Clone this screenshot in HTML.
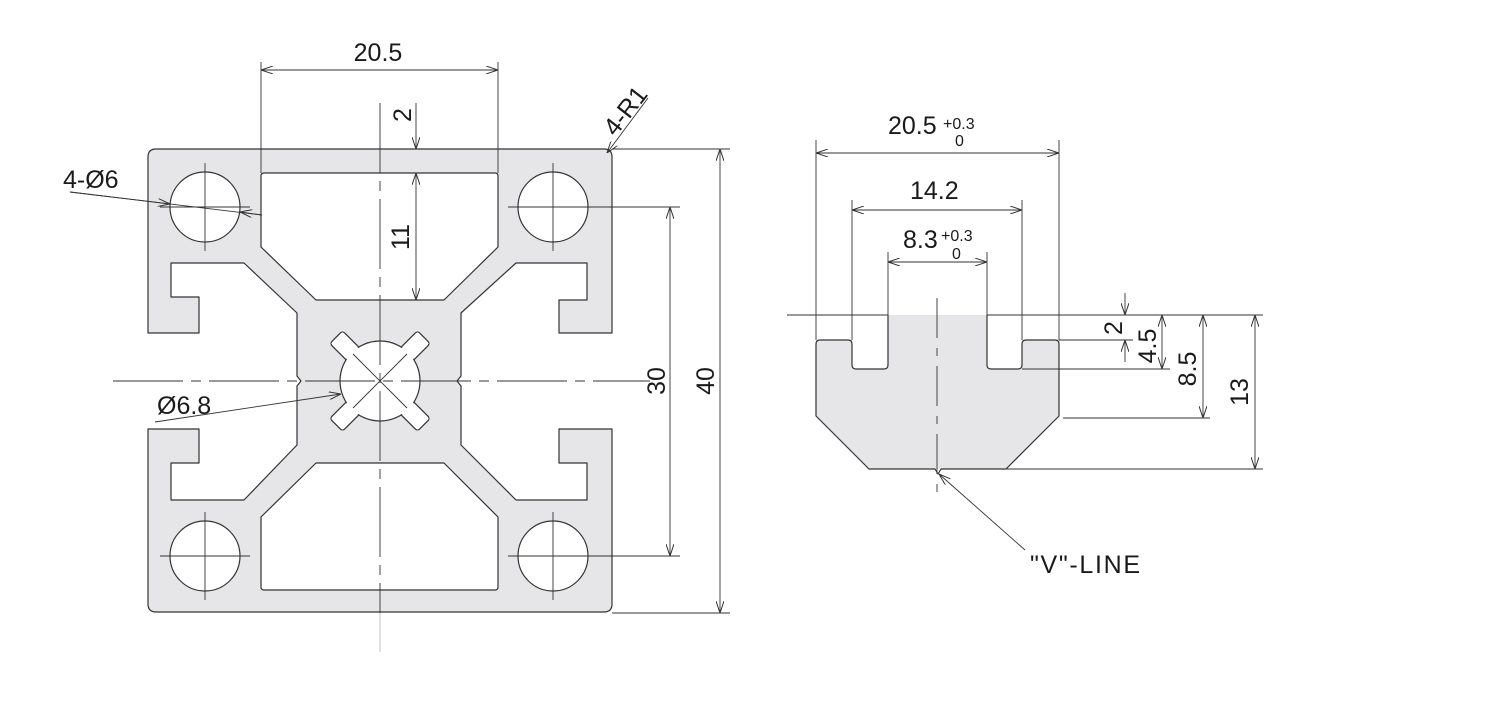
<!DOCTYPE html>
<html><head><meta charset="utf-8"><style>
html,body{margin:0;padding:0;background:#fff;}
svg{display:block;}
text{font-family:"Liberation Sans",sans-serif;fill:#1a1a1a;}
</style></head><body>
<svg width="1505" height="719" viewBox="0 0 1505 719" xmlns="http://www.w3.org/2000/svg">
<defs>
<marker id="a" viewBox="0 0 12 8" refX="12" refY="4" markerWidth="12" markerHeight="8" markerUnits="userSpaceOnUse" orient="auto-start-reverse">
<path d="M0,0 L12,4 L0,8" fill="none" stroke="#333" stroke-width="1"/>
</marker>
</defs>
<g stroke="#333" stroke-width="1.2" fill="none">
<path fill="#e6e6e8" stroke-linejoin="round" d="M156,149 L604,149 Q612,149 612,157 L612,333 L559,333 L559,300 L587,300 L587,263 L516,263 L461,313 L461,376 L457,381 L461,386 L461,445 L516,500 L587,500 L587,463 L559,463 L559,429 L612,429 L612,604 Q612,612 604,612 L156,612 Q148,612 148,604 L148,429 L199,429 L199,463 L171,463 L171,500 L244,500 L297,445 L297,386 L301,381 L297,376 L297,313 L244,263 L171,263 L171,297 L199,297 L199,333 L148,333 L148,157 Q148,149 156,149 Z"/>
<path fill="#fff" stroke-linejoin="round" d="M264,173 L495,173 Q498,173 498,176 L498,247 L444,300 L316,300 L261,247 L261,176 Q261,173 264,173 Z"/>
<path fill="#fff" stroke-linejoin="round" d="M316,463 L444,463 L498,517 L498,587 Q498,590 495,590 L264,590 Q261,590 261,587 L261,517 Z"/>
<circle cx="205" cy="207" r="35" fill="#fff"/>
<circle cx="553" cy="207" r="35" fill="#fff"/>
<circle cx="205" cy="556" r="35" fill="#fff"/>
<circle cx="553" cy="556" r="35" fill="#fff"/>
<g transform="translate(380,381) rotate(45)">
<rect x="-62" y="-9" width="124" height="18" rx="3" fill="#fff"/>
<rect x="-9" y="-62" width="18" height="124" rx="3" fill="#fff"/>
<circle r="40" fill="#fff"/>
<rect x="-61" y="-8" width="122" height="16" fill="#fff" stroke="none"/>
<rect x="-8" y="-61" width="16" height="122" fill="#fff" stroke="none"/>
</g>
<g stroke-width="0.9">
<line x1="353" y1="354" x2="407" y2="408"/><line x1="407" y1="354" x2="353" y2="408"/>
<line x1="380" y1="103" x2="380" y2="613" stroke-dasharray="70,8,10,8"/>
<line x1="380" y1="613" x2="380" y2="652" stroke="#bbb"/>
<line x1="113" y1="381" x2="650" y2="381" stroke-dasharray="70,8,10,8"/>
<line x1="160" y1="207" x2="250" y2="207"/><line x1="205" y1="163" x2="205" y2="251"/>
<line x1="508" y1="207" x2="680" y2="207"/><line x1="553" y1="163" x2="553" y2="251"/>
<line x1="160" y1="556" x2="250" y2="556"/><line x1="205" y1="512" x2="205" y2="600"/>
<line x1="508" y1="556" x2="680" y2="556"/><line x1="553" y1="512" x2="553" y2="600"/>
<line x1="261" y1="62" x2="261" y2="173"/><line x1="498" y1="62" x2="498" y2="173"/>
<line x1="261" y1="70" x2="498" y2="70" marker-start="url(#a)" marker-end="url(#a)"/>
<line x1="416" y1="103" x2="416" y2="149" marker-end="url(#a)"/>
<line x1="416" y1="173" x2="416" y2="300" marker-start="url(#a)" marker-end="url(#a)"/>
<line x1="648" y1="98" x2="607" y2="153" marker-end="url(#a)"/>
<line x1="70" y1="192" x2="262" y2="215"/>
<line x1="70" y1="192" x2="170" y2="204" marker-end="url(#a)"/>
<line x1="262" y1="215" x2="240" y2="212" marker-end="url(#a)"/>
<line x1="155" y1="422" x2="341" y2="394" marker-end="url(#a)"/>
<line x1="670" y1="207" x2="670" y2="556" marker-start="url(#a)" marker-end="url(#a)"/>
<line x1="612" y1="149" x2="730" y2="149"/><line x1="612" y1="613" x2="730" y2="613"/>
<line x1="720" y1="149" x2="720" y2="613" marker-start="url(#a)" marker-end="url(#a)"/>
</g>
<path fill="#e6e6e8" stroke="none" d="M888,315 L987,315 L987,369 L1022,369 L1022,340 L1059,340 L1059,416 L1006,469 L869,469 L816,416 L816,340 L852,340 L852,369 L888,369 Z"/>
<path stroke-linejoin="round" d="M888,315 L888,365 Q888,369 884,369 L856,369 Q852,369 852,365 L852,344 Q852,340 848,340 L820,340 Q816,340 816,344 L816,416 L869,469 L935,469 L938,474 L941,469 L1006,469 L1059,416 L1059,344 Q1059,340 1055,340 L1026,340 Q1022,340 1022,344 L1022,365 Q1022,369 1018,369 L991,369 Q987,369 987,365 L987,315"/>
<g stroke-width="0.9">
<line x1="787" y1="315" x2="888" y2="315"/><line x1="987" y1="315" x2="1263" y2="315"/>
<line x1="816" y1="140" x2="816" y2="340"/><line x1="1059" y1="140" x2="1059" y2="340"/>
<line x1="852" y1="200" x2="852" y2="340"/><line x1="1022" y1="200" x2="1022" y2="340"/>
<line x1="888" y1="252" x2="888" y2="315"/><line x1="987" y1="252" x2="987" y2="315"/>
<line x1="816" y1="153" x2="1059" y2="153" marker-start="url(#a)" marker-end="url(#a)"/>
<line x1="852" y1="210" x2="1022" y2="210" marker-start="url(#a)" marker-end="url(#a)"/>
<line x1="888" y1="262" x2="987" y2="262" marker-start="url(#a)" marker-end="url(#a)"/>
<line x1="937" y1="298" x2="937" y2="500" stroke-dasharray="40,10,8,10"/>
<line x1="1059" y1="340" x2="1133" y2="340"/>
<line x1="1022" y1="369" x2="1170" y2="369"/>
<line x1="1063" y1="418" x2="1210" y2="418"/>
<line x1="1006" y1="469" x2="1263" y2="469"/>
<line x1="1125" y1="293" x2="1125" y2="315" marker-end="url(#a)"/>
<line x1="1125" y1="362" x2="1125" y2="340" marker-end="url(#a)"/>
<line x1="1162" y1="315" x2="1162" y2="369" marker-start="url(#a)" marker-end="url(#a)"/>
<line x1="1203" y1="315" x2="1203" y2="418" marker-start="url(#a)" marker-end="url(#a)"/>
<line x1="1255" y1="315" x2="1255" y2="469" marker-start="url(#a)" marker-end="url(#a)"/>
<line x1="1025" y1="550" x2="939" y2="474" marker-end="url(#a)"/>
</g>
</g>
<g font-size="25">
<text x="378" y="61" text-anchor="middle">20.5</text>
<text transform="translate(411,115) rotate(-90)" text-anchor="middle">2</text>
<text transform="translate(409,237) rotate(-90)" text-anchor="middle">11</text>
<text transform="translate(632,116) rotate(-52)" text-anchor="middle">4-R1</text>
<text x="63" y="188">4-Ø6</text>
<text x="157" y="414">Ø6.8</text>
<text transform="translate(665,381) rotate(-90)" text-anchor="middle">30</text>
<text transform="translate(714,381) rotate(-90)" text-anchor="middle">40</text>
<text x="888" y="134">20.5</text>
<text x="910" y="199">14.2</text>
<text x="903" y="248">8.3</text>
<text transform="translate(1122,328) rotate(-90)" text-anchor="middle">2</text>
<text transform="translate(1156,346) rotate(-90)" text-anchor="middle">4.5</text>
<text transform="translate(1196,369) rotate(-90)" text-anchor="middle">8.5</text>
<text transform="translate(1248,392) rotate(-90)" text-anchor="middle">13</text>
<text x="1030" y="573" textLength="110">"V"-LINE</text>
</g>
<g font-size="16">
<text x="943" y="129">+0.3</text>
<text x="955" y="146">0</text>
<text x="941" y="241">+0.3</text>
<text x="952" y="259">0</text>
</g>
</svg>
</body></html>
